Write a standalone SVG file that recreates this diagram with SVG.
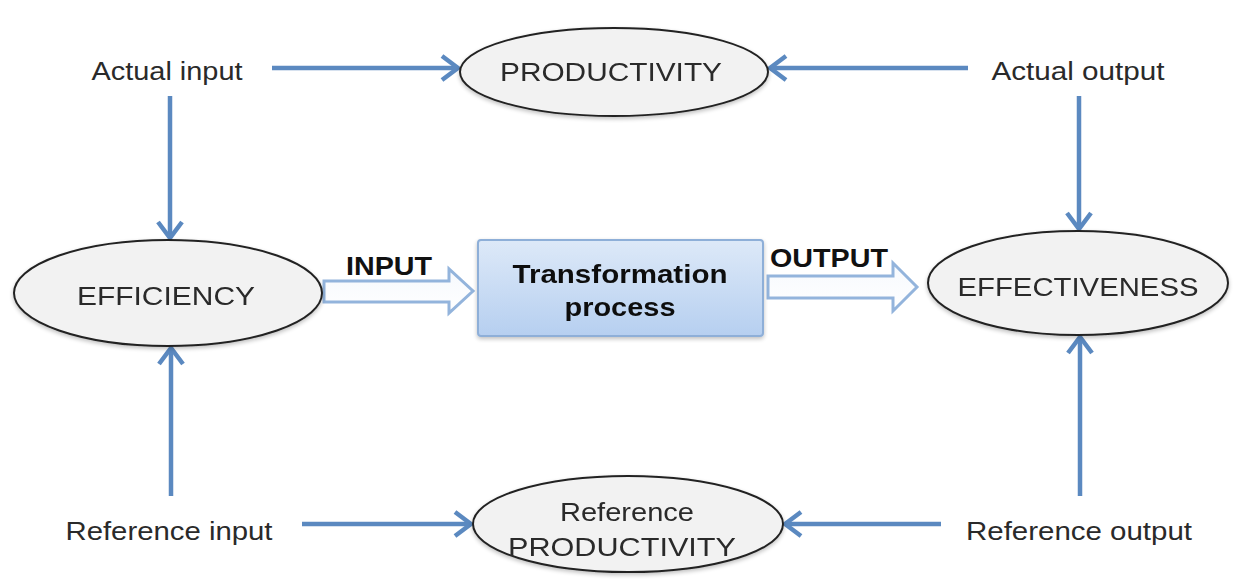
<svg xmlns="http://www.w3.org/2000/svg" width="1235" height="582" viewBox="0 0 1235 582">
  <defs>
    <marker id="ah" viewBox="0 0 24 30" refX="21" refY="15" markerWidth="24" markerHeight="30" markerUnits="userSpaceOnUse" orient="auto">
      <path d="M5,3 L21,15 L5,27" fill="none" stroke="#5b89c0" stroke-width="4.5" stroke-linejoin="miter"/>
    </marker>
    <linearGradient id="boxFill" x1="0" y1="0" x2="0" y2="1">
      <stop offset="0" stop-color="#dde9f8"/>
      <stop offset="1" stop-color="#b6cff0"/>
    </linearGradient>
    <linearGradient id="hollowFill" x1="0" y1="0" x2="0" y2="1">
      <stop offset="0" stop-color="#f6f9fd"/>
      <stop offset="1" stop-color="#ffffff"/>
    </linearGradient>
    <filter id="soft" x="-10%" y="-10%" width="120%" height="130%">
      <feGaussianBlur in="SourceAlpha" stdDeviation="2"/>
      <feOffset dy="2" result="b"/>
      <feComponentTransfer><feFuncA type="linear" slope="0.25"/></feComponentTransfer>
      <feMerge><feMergeNode/><feMergeNode in="SourceGraphic"/></feMerge>
    </filter>
  </defs>
  <style>
    .lbl { font-family: "Liberation Sans", Arial, sans-serif; font-size: 25px; fill: #2a2a2a; text-anchor: middle; }
    .bold { font-weight: bold; fill: #111; }
    .oval { fill: #f2f2f2; stroke: #222; stroke-width: 2; }
    .conn { stroke: #5b89c0; stroke-width: 4.5; fill: none; marker-end: url(#ah); }
    .hollow { fill: url(#hollowFill); stroke: #93b4dc; stroke-width: 3; stroke-linejoin: miter; }
  </style>

  <rect width="1235" height="582" fill="#ffffff"/>

  <!-- connectors -->
  <g id="connectors">
    <line class="conn" x1="272" y1="68" x2="458" y2="68"/>
    <line class="conn" x1="968" y1="68" x2="770" y2="68"/>
    <line class="conn" x1="170" y1="96" x2="170" y2="238"/>
    <line class="conn" x1="171" y1="496" x2="171" y2="348"/>
    <line class="conn" x1="1079" y1="96" x2="1079" y2="229"/>
    <line class="conn" x1="1080" y1="496" x2="1080" y2="337"/>
    <line class="conn" x1="302" y1="524" x2="471" y2="524"/>
    <line class="conn" x1="941" y1="524" x2="785" y2="524"/>
    <polygon id="input-arrow" class="hollow" points="324,281 449,281 449,269 473,291 449,313 449,302 324,302"/>
    <polygon id="output-arrow" class="hollow" points="768,276 893,276 893,263 917,287 893,311 893,298 768,298"/>
    <text class="lbl bold" x="389" y="275" textLength="86" lengthAdjust="spacingAndGlyphs">INPUT</text>
    <text class="lbl bold" x="829" y="267" textLength="118" lengthAdjust="spacingAndGlyphs">OUTPUT</text>
  </g>

  <!-- source labels -->
  <g id="actual-input">
    <text class="lbl" x="167" y="80" textLength="151" lengthAdjust="spacingAndGlyphs">Actual input</text>
  </g>
  <g id="actual-output">
    <text class="lbl" x="1078" y="80" textLength="173" lengthAdjust="spacingAndGlyphs">Actual output</text>
  </g>
  <g id="reference-input">
    <text class="lbl" x="169" y="540" textLength="207" lengthAdjust="spacingAndGlyphs">Reference input</text>
  </g>
  <g id="reference-output">
    <text class="lbl" x="1079" y="540" textLength="226" lengthAdjust="spacingAndGlyphs">Reference output</text>
  </g>

  <!-- measure ovals -->
  <g id="productivity" filter="url(#soft)">
    <ellipse class="oval" cx="614" cy="72" rx="154" ry="44"/>
    <text class="lbl" x="611" y="81" textLength="222" lengthAdjust="spacingAndGlyphs">PRODUCTIVITY</text>
  </g>
  <g id="efficiency" filter="url(#soft)">
    <ellipse class="oval" cx="168" cy="293" rx="154" ry="53"/>
    <text class="lbl" x="166" y="305" textLength="178" lengthAdjust="spacingAndGlyphs">EFFICIENCY</text>
  </g>
  <g id="effectiveness" filter="url(#soft)">
    <ellipse class="oval" cx="1078" cy="283" rx="150" ry="52"/>
    <text class="lbl" x="1078" y="296" textLength="241" lengthAdjust="spacingAndGlyphs">EFFECTIVENESS</text>
  </g>
  <g id="reference-productivity" filter="url(#soft)">
    <ellipse class="oval" cx="628" cy="524" rx="155" ry="48"/>
    <text class="lbl" x="627" y="521" textLength="134" lengthAdjust="spacingAndGlyphs">Reference</text>
    <text class="lbl" x="622" y="556" textLength="228" lengthAdjust="spacingAndGlyphs">PRODUCTIVITY</text>
  </g>

  <!-- central process box -->
  <g id="transformation" filter="url(#soft)">
    <rect x="478" y="240" width="285" height="96" rx="3" fill="url(#boxFill)" stroke="#8eafd8" stroke-width="2"/>
    <text class="lbl bold" x="620" y="283" textLength="215" lengthAdjust="spacingAndGlyphs" fill="#1a1e2c">Transformation</text>
    <text class="lbl bold" x="620" y="316" textLength="111" lengthAdjust="spacingAndGlyphs" fill="#1a1e2c">process</text>
  </g>
</svg>
